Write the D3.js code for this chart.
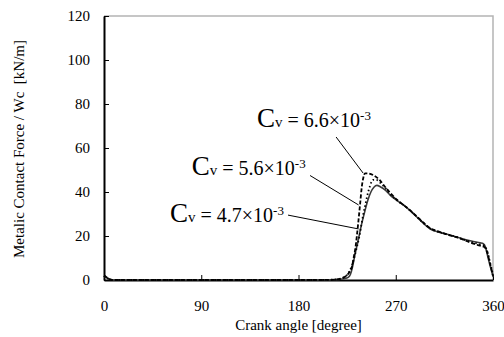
<!DOCTYPE html>
<html>
<head>
<meta charset="utf-8">
<script src="https://cdn.jsdelivr.net/npm/d3@7"></script>
<style>
  html, body { margin: 0; padding: 0; background: #fff; }
  svg { display: block; }
</style>
</head>
<body>
<script>
const serif = "'Liberation Serif', 'Times New Roman', serif";

// Tick labels
const xTicks = [0, 90, 180, 270, 360];
const yTicks = [0, 20, 40, 60, 80, 100, 120];

// Cv = 6.6e-3 (dashed)
const angle66 = [0, 2, 4, 6, 8, 200, 214, 220, 224, 227, 229.5, 231, 232.5, 234, 235.5, 237, 238.5, 240, 241.6, 244, 249, 255, 260, 265, 271, 280, 286, 294, 302, 308, 314, 320, 326, 334, 342, 348, 352, 355, 357, 359, 360];
const force66 = [2, 1.4, 0.7, 0.2, 0, 0, 0.2, 0.8, 1.8, 3.5, 6, 10, 14, 20, 27, 34.5, 42, 46.5, 48.5, 48.5, 47.7, 45.5, 42.4, 39.5, 36.5, 33, 30.5, 26.8, 23.5, 22.3, 21.3, 20.3, 19.5, 18, 16.5, 15.6, 15, 12, 8, 4, 2];

// Cv = 5.6e-3 (dotted)
const angle56 = [0, 2, 4, 6, 8, 200, 213, 219, 223, 226, 229, 231.5, 233.5, 236, 238, 240, 242, 243.5, 246, 249, 252, 256, 260, 265, 271, 280, 286, 294, 302, 308, 314, 320, 326, 334, 342, 348, 352, 355, 357, 359, 360];
const force56 = [1.9, 1.3, 0.6, 0.2, 0, 0, 0.2, 0.7, 1.5, 3, 6, 10, 14, 19, 24.5, 30, 34.5, 38, 42.5, 45.5, 45.5, 44, 42, 39, 36.3, 33, 30.4, 26.6, 23.4, 22.1, 21.2, 20.4, 19.6, 18.2, 17, 16.2, 15.6, 12.5, 8.5, 4.5, 2.2];

// Cv = 4.7e-3 (solid)
const angle47 = [0, 2, 4, 6, 8, 200, 212, 218, 222, 226, 228, 230, 232, 235, 238, 241, 244, 247, 250, 252.5, 256, 260, 265, 271, 280, 286, 294, 302, 308, 314, 320, 326, 334, 342, 348, 351, 353, 355, 357, 359, 360];
const force47 = [1.8, 1.2, 0.6, 0.2, 0, 0, 0.1, 0.3, 0.6, 1.2, 2.5, 6, 11, 17.5, 24.5, 30.5, 36, 40, 42.3, 43, 42.3, 41, 38.5, 36.2, 33, 30.3, 26.5, 23.2, 22, 21.2, 20.5, 19.6, 18.4, 17.5, 16.9, 16.5, 15, 11, 7, 3.5, 1.5];

const labelMant = ["6.6", "5.6", "4.7"];

const width = 504;
const height = 337;

const svg = d3.select("body")
  .append("svg")
  .attr("width", width)
  .attr("height", height)
  .attr("font-family", serif);

svg.append("rect").attr("width", width).attr("height", height).attr("fill", "#fff");

const x = d3.scaleLinear().domain([0, 360]).range([104, 493]);
const y = d3.scaleLinear().domain([0, 120]).range([280, 16]);

// frame (top and right are light grey)
svg.append("path")
  .attr("d", `M${x(0)},${y(120)}H${x(360)}V${y(0)}`)
  .attr("fill", "none")
  .attr("stroke", "#b4b4b4")
  .attr("stroke-width", 1.5);

// axes
const yAxis = svg.append("g")
  .attr("transform", `translate(${x(0)},0)`)
  .call(d3.axisLeft(y).tickValues(yTicks).tickSizeInner(-5).tickSizeOuter(0).tickPadding(14));
const xAxis = svg.append("g")
  .attr("transform", `translate(0,${y(0)})`)
  .call(d3.axisBottom(x).tickValues(xTicks).tickSizeInner(-5).tickSizeOuter(0).tickPadding(20));

[xAxis, yAxis].forEach(g => {
  g.attr("font-family", serif).attr("font-size", 15);
  g.select(".domain").attr("stroke", "#000").attr("stroke-width", 2);
  g.selectAll(".tick line").attr("stroke", "#000").attr("stroke-width", 1);
  g.selectAll(".tick text").attr("fill", "#000");
});

// axis titles
svg.append("text")
  .attr("x", (x(0) + x(360)) / 2)
  .attr("y", 330)
  .attr("text-anchor", "middle")
  .attr("font-size", 15)
  .text("Crank angle [degree]");

svg.append("text")
  .attr("transform", `translate(24,${(y(0) + y(120)) / 2 + 1}) rotate(-90)`)
  .attr("text-anchor", "middle")
  .attr("font-size", 15)
  .attr("xml:space", "preserve")
  .text("Metalic Contact Force / Wc  [kN/m]");

// curves
const line = d3.line()
  .curve(d3.curveMonotoneX)
  .x(d => x(d[0]))
  .y(d => y(d[1]));

const series = [
  { a: angle47, f: force47, stroke: "#3a3a3a", width: 1.6, dash: null },
  { a: angle56, f: force56, stroke: "#000", width: 1.8, dash: "1.5,2.5" },
  { a: angle66, f: force66, stroke: "#000", width: 1.8, dash: "4,2" }
];

svg.append("g")
  .selectAll("path")
  .data(series)
  .enter()
  .append("path")
  .attr("d", s => line(s.a.map((v, i) => [v, s.f[i]])))
  .attr("fill", "none")
  .attr("stroke", s => s.stroke)
  .attr("stroke-width", s => s.width)
  .attr("stroke-dasharray", s => s.dash)
  .attr("stroke-linejoin", "round");

// annotations: label anchor (deg, kN/m), leader start and end
const notes = [
  { m: labelMant[0], at: [141.6, 69.5], from: [214.8, 65], to: [239.8, 48.6] },
  { m: labelMant[1], at: [81.2, 47.7], from: [190.7, 47.5], to: [235.6, 34.1] },
  { m: labelMant[2], at: [61.1, 26.4], from: [170.3, 29.5], to: [235.6, 23.2] }
];

const ann = svg.append("g");
ann.selectAll("line")
  .data(notes)
  .enter()
  .append("line")
  .attr("x1", d => x(d.from[0]))
  .attr("y1", d => y(d.from[1]))
  .attr("x2", d => x(d.to[0]))
  .attr("y2", d => y(d.to[1]))
  .attr("stroke", "#000")
  .attr("stroke-width", 1);

const labels = ann.selectAll("text")
  .data(notes)
  .enter()
  .append("text")
  .attr("x", d => x(d.at[0]))
  .attr("y", d => y(d.at[1]))
  .attr("xml:space", "preserve");

labels.append("tspan").attr("font-size", 27).text("C");
labels.append("tspan").attr("font-size", 15).text("v");
labels.append("tspan").attr("font-size", 20).text(d => ` = ${d.m}×10`);
labels.append("tspan").attr("font-size", 13).attr("dy", -7).text("-3");
</script>
</body>
</html>
